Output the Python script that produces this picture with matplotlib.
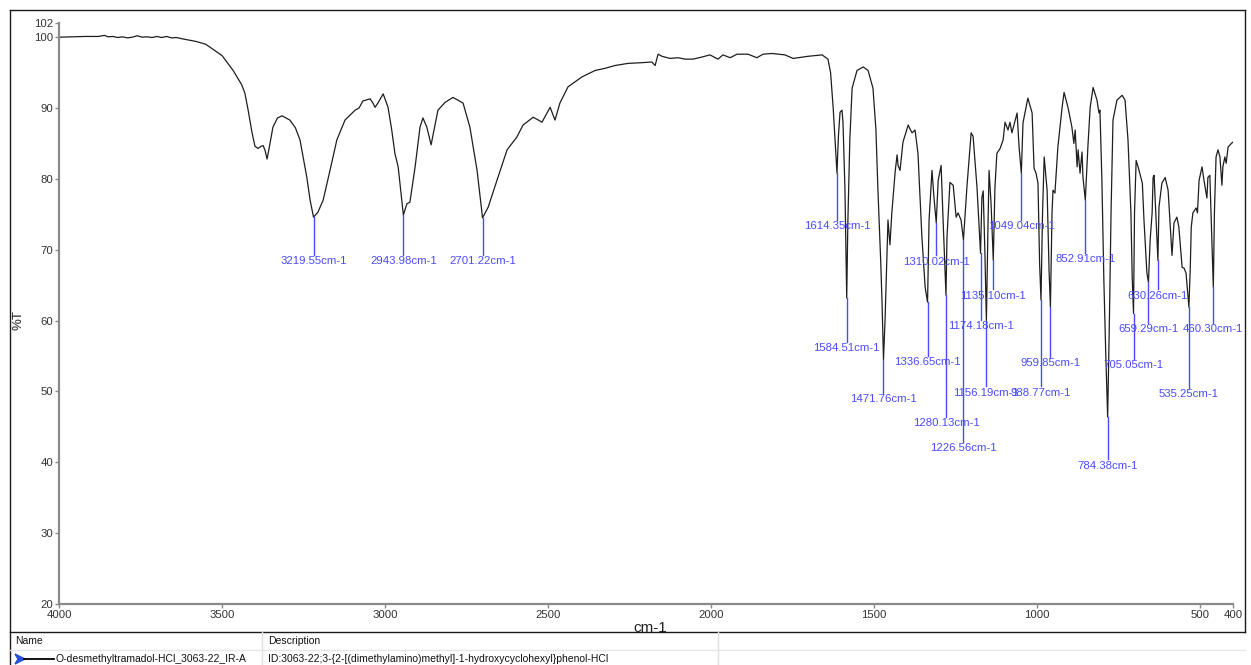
import numpy as np
import matplotlib
matplotlib.use("Agg")
import matplotlib.pyplot as plt
from matplotlib.lines import Line2D
from matplotlib.patches import Polygon

# spectrum (cm-1, %T)
wavenumber = [
    4000, 3960, 3920, 3880, 3860, 3850, 3835, 3820, 3805, 3790, 3775, 3760, 3745, 3730,
    3715, 3700, 3685, 3670, 3655, 3640, 3620, 3580, 3550, 3528, 3500, 3466, 3440, 3430,
    3420, 3408, 3399, 3390, 3380, 3374, 3368, 3362, 3355, 3344, 3330, 3316, 3292, 3275,
    3261, 3240, 3230, 3219.55, 3206, 3190, 3169, 3148, 3123, 3092, 3080, 3068, 3046, 3036,
    3031, 3022, 3006, 2991, 2980, 2970, 2960, 2943.98, 2933, 2924, 2908, 2893, 2884, 2872,
    2859, 2850, 2838, 2816, 2792, 2761, 2740, 2718, 2701.22, 2684, 2657, 2626, 2596, 2577,
    2546, 2530, 2519, 2494, 2479, 2464, 2439, 2396, 2356, 2326, 2295, 2255, 2212, 2182,
    2172, 2163, 2151, 2126, 2102, 2080, 2056, 2028, 2004, 1979, 1964, 1942, 1921, 1887,
    1860, 1841, 1814, 1774, 1749, 1703, 1660, 1642, 1634, 1626, 1619, 1614.35, 1610, 1605,
    1599, 1596, 1590, 1584.51, 1581, 1575, 1568, 1553, 1534, 1519, 1504, 1495, 1489, 1480,
    1476, 1471.76, 1467, 1461, 1458, 1452, 1446, 1436, 1430, 1427, 1421, 1412, 1396, 1390,
    1384, 1375, 1366, 1354, 1344, 1336.65, 1332, 1323, 1317, 1310.02, 1304, 1295, 1289,
    1280.13, 1277, 1268, 1258, 1249, 1243, 1234, 1226.56, 1216, 1203, 1197, 1185, 1174.18,
    1170, 1166, 1161, 1156.19, 1151, 1148, 1142, 1135.10, 1130, 1124, 1114, 1105, 1099,
    1090, 1084, 1078, 1062, 1056, 1049.04, 1044, 1029, 1016, 1010, 1004, 998, 993, 988.77,
    984, 979, 970, 964, 959.85, 955, 952, 946, 937, 924, 918, 906, 894, 888, 884, 878, 875,
    869, 863, 860, 852.91, 845, 838, 829, 817, 811, 808, 802, 796, 790, 784.38, 779, 774,
    768, 756, 740, 731, 722, 713, 709, 705.05, 702, 697, 691, 678, 673, 664, 659.29, 654,
    648, 645, 642, 636, 630.26, 627, 618, 608, 599, 593, 587, 581, 572, 566, 556, 550, 544,
    535.25, 531, 528, 523, 513, 509, 504, 495, 489, 480, 477, 471, 464, 460.30, 457, 452,
    446, 440, 434, 431, 425, 421, 415, 405, 400,
]
transmittance = [
    100.0, 100.05, 100.1, 100.1, 100.25, 100.05, 100.1, 99.95, 100.05, 99.9, 100.0, 100.2, 100.0, 100.05,
    99.95, 100.1, 99.95, 100.1, 99.9, 99.95, 99.75, 99.4, 99.0, 98.3, 97.4, 95.3, 93.3, 92.1,
    89.7, 86.5, 84.6, 84.3, 84.6, 84.7, 84.0, 82.8, 84.5, 87.3, 88.6, 88.9, 88.3, 87.2,
    85.5, 80.2, 77.0, 74.6, 75.3, 77.0, 81.2, 85.5, 88.3, 89.7, 90.0, 91.0, 91.3, 90.6,
    90.1, 90.7, 92.0, 90.1, 87.0, 83.6, 81.7, 74.9, 76.5, 76.7, 81.7, 87.3, 88.6, 87.3,
    84.8, 86.9, 89.7, 90.8, 91.5, 90.7, 87.3, 81.2, 74.5, 76.0, 79.8, 84.1, 85.9, 87.6,
    88.7, 88.3, 88.0, 90.1, 88.3, 90.7, 93.0, 94.4, 95.3, 95.6, 96.0, 96.3, 96.4, 96.5,
    96.0, 97.6, 97.3, 97.0, 97.1, 96.9, 96.9, 97.2, 97.5, 96.9, 97.5, 97.1, 97.6, 97.6,
    97.1, 97.6, 97.7, 97.5, 97.0, 97.3, 97.5, 96.9, 95.0, 90.0, 84.5, 80.8, 86.0, 89.4,
    89.7, 88.0, 78.7, 63.2, 73.9, 85.5, 92.8, 95.3, 95.8, 95.3, 92.8, 87.0, 78.7, 68.0,
    62.2, 54.5, 60.0, 69.2, 74.2, 70.7, 75.3, 81.0, 83.4, 81.9, 81.2, 85.2, 87.6, 87.0,
    86.5, 86.9, 83.6, 71.8, 64.7, 62.6, 74.2, 81.2, 77.4, 73.8, 79.8, 81.9, 74.2,
    63.6, 71.8, 79.5, 79.1, 74.6, 75.2, 74.2, 71.4, 78.8, 86.5, 86.0, 78.8, 69.5,
    77.4, 78.3, 70.0, 60.0, 74.2, 81.2, 76.6, 68.5, 78.8, 83.6, 84.3, 85.5, 88.0,
    86.9, 88.0, 86.5, 89.3, 84.5, 80.8, 87.9, 91.4, 89.3, 81.5, 80.8, 79.4, 68.0, 62.9,
    75.2, 83.1, 78.4, 67.0, 61.9, 75.2, 78.4, 78.0, 84.5, 90.1, 92.2, 90.1, 87.3, 85.0, 86.9, 81.7, 84.1,
    80.8, 83.8, 80.2, 77.0, 84.5, 90.1, 92.9, 91.1, 89.3, 89.7, 79.8, 65.7, 55.0, 46.4, 60.0, 75.2,
    88.3, 91.1, 91.8, 91.1, 85.5, 75.2, 66.0, 61.0, 75.2, 82.6, 81.7, 79.4, 74.2, 66.7, 65.4, 71.4,
    75.2, 80.2, 80.5, 74.2, 68.5, 76.0, 79.4, 80.2, 78.4, 73.8, 69.2, 73.8, 74.6, 73.2, 67.5, 67.4, 66.7,
    61.9, 67.5, 73.2, 75.2, 75.9, 75.2, 79.8, 81.7, 79.8, 77.3, 80.2, 80.5, 70.4, 64.7, 75.2, 83.1,
    84.1, 83.1, 79.1, 81.7, 83.1, 82.2, 84.5, 85.0, 85.2,
]

# labelled peaks and where their labels sit (%T)
peak_wn = [3219.55, 2943.98, 2701.22, 1614.35, 1584.51, 1471.76, 1336.65, 1310.02,
           1280.13, 1226.56, 1174.18, 1156.19, 1135.10, 1049.04, 988.77, 959.85,
           852.91, 784.38, 705.05, 659.29, 630.26, 535.25, 460.30]
label_T = [68.4, 68.4, 68.4, 73.3, 56.1, 48.9, 54.1, 68.3,
           45.5, 42.0, 59.2, 49.8, 63.5, 73.3, 49.8, 54.0,
           68.7, 39.5, 53.7, 58.8, 63.5, 49.6, 58.8]

x_ticks = [4000, 3500, 3000, 2500, 2000, 1500, 1000, 500, 400]
y_ticks = [20, 30, 40, 50, 60, 70, 80, 90, 100, 102]

sample_name = "O-desmethyltramadol-HCl_3063-22_IR-A"
sample_desc = "ID:3063-22;3-{2-[(dimethylamino)methyl]-1-hydroxycyclohexyl}phenol-HCl"

plt.rcParams["font.family"] = ["Liberation Sans", "DejaVu Sans"]

W, H = 1251, 665
fig = plt.figure(figsize=(W / 100, H / 100), dpi=100)
fig.patch.set_facecolor("white")

def fx(x):
    return x / W

def fy(y):
    return 1 - y / H

ax = fig.add_axes([fx(59), fy(604), fx(1233) - fx(59), fy(23) - fy(604)])
ax.plot(wavenumber, transmittance, color="#1e1e1e", lw=0.9)

wn_arr = np.array(wavenumber)[::-1]
t_arr = np.array(transmittance)[::-1]
blue = "#4a4aff"
for wn, ly, in zip(peak_wn, label_T):
    top = np.interp(wn, wn_arr, t_arr)
    ax.plot([wn, wn], [top, ly + 0.9], color=blue, lw=1)
    ax.text(wn, ly, f"{wn:.2f}cm-1", color=blue, fontsize=8.2,
            ha="center", va="center")

ax.set_xlim(4000, 400)
ax.set_ylim(20, 102)
ax.set_xticks(x_ticks)
ax.set_yticks(y_ticks)
ax.tick_params(axis="both", labelsize=8.2, colors="#333333", length=3, width=1,
               color="#8a8a8a", pad=1)
for s in ["top", "right"]:
    ax.spines[s].set_visible(False)
for s in ["left", "bottom"]:
    ax.spines[s].set_color("#8a8a8a")
    ax.spines[s].set_linewidth(1.6)
ax.set_xlabel("cm-1", fontsize=11, color="#222222")
ax.xaxis.set_label_coords((650 - 59) / (1233 - 59), -0.03)
fig.text(fx(18), fy(320), "%T", rotation=90, fontsize=9.5, color="#222222",
         ha="center", va="center")

# frame and legend table
def hline(y, x0, x1, c="#1a1a1a", lw=1):
    fig.add_artist(Line2D([fx(x0), fx(x1)], [fy(y), fy(y)], color=c, lw=lw))

def vline(x, y0, y1, c="#1a1a1a", lw=1):
    fig.add_artist(Line2D([fx(x), fx(x)], [fy(y0), fy(y1)], color=c, lw=lw))

hline(10, 10, 1245)
vline(10, 10, 665)
vline(1245, 10, 632)
hline(632, 10, 1245)
hline(650, 10, 1245, c="#e6e6e6")
vline(262, 632, 665, c="#e0e0e0")
vline(718, 632, 665, c="#e0e0e0")

fig.text(fx(15), fy(641), "Name", fontsize=7.5, va="center", color="#111111")
fig.text(fx(268), fy(641), "Description", fontsize=7.5, va="center", color="#111111")
fig.add_artist(Polygon([[fx(15), fy(654)], [fx(25), fy(659)], [fx(15), fy(664)], [fx(18), fy(659)]],
                       closed=True, color="#2a4fd6", transform=fig.transFigure))
hline(659, 24, 54, c="#000000", lw=1.3)
fig.text(fx(56), fy(659), sample_name, fontsize=7.5, va="center", color="#111111")
fig.text(fx(268), fy(659), sample_desc, fontsize=7.5, va="center", color="#111111")

fig.savefig("out.png", dpi=100)
